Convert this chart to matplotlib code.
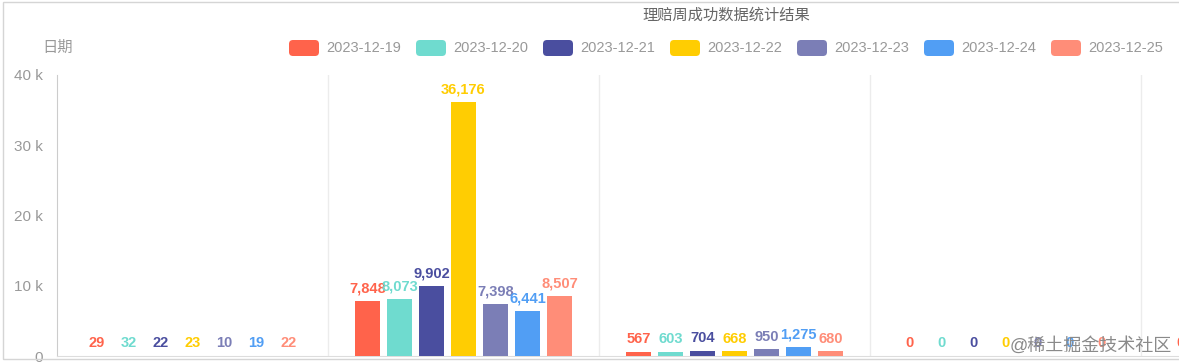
import matplotlib
matplotlib.use("Agg")
import matplotlib.pyplot as plt
from matplotlib.patches import FancyBboxPatch, Rectangle
from matplotlib.ticker import FixedLocator, FuncFormatter

plt.rcParams['font.family'] = ['Liberation Sans', 'Noto Sans CJK SC', 'DejaVu Sans']

title = "理赔周成功数据统计结果"
y_name = "日期"
series_names = ["2023-12-19", "2023-12-20", "2023-12-21", "2023-12-22",
                "2023-12-23", "2023-12-24", "2023-12-25"]
colors = ["#FF634B", "#6FDBCF", "#4A4E9F", "#FFCD02",
          "#7B7EB6", "#519EF4", "#FF8D78"]
# values per series, one entry per category (5th category is cut off at the right edge)
s_1219 = [29, 7848, 567, 0, 0]
s_1220 = [32, 8073, 603, 0, 0]
s_1221 = [22, 9902, 704, 0, 0]
s_1222 = [23, 36176, 668, 0, 0]
s_1223 = [10, 7398, 950, 0, 0]
s_1224 = [19, 6441, 1275, 0, 0]
s_1225 = [22, 8507, 680, 0, 0]
series = [s_1219, s_1220, s_1221, s_1222, s_1223, s_1224, s_1225]
y_ticks = [0, 10000, 20000, 30000, 40000]
watermark = "@稀土掘金技术社区"

W, H = 1179, 363
fig = plt.figure(figsize=(W / 100, H / 100), dpi=100)
fig.patch.set_facecolor("white")

n_cat = len(s_1219)
cat_px = 271
ax = fig.add_axes([57 / W, (H - 356) / H, n_cat * cat_px / W, (356 - 75) / H])
ax.set_xlim(0, n_cat)
ax.set_ylim(0, 40000)

step = 32 / cat_px
bw = 25 / cat_px
for i, (vals, c) in enumerate(zip(series, colors)):
    xs = [k + 0.5 + (i - 3) * step for k in range(n_cat)]
    ax.bar(xs, vals, width=bw, color=c, zorder=3)
    for x, v in zip(xs, vals):
        ax.annotate(f"{v:,}", (x, v), xytext=(0, 4), textcoords="offset points",
                    ha="center", va="bottom", color=c, fontsize=10.5,
                    fontweight="bold", annotation_clip=False, zorder=5)

for k in range(1, n_cat):
    ax.axvline(k, color="#ececec", lw=1, zorder=1)

for s in ["top", "right"]:
    ax.spines[s].set_visible(False)
ax.spines["left"].set_color("#cccccc")
ax.spines["bottom"].set_color("#dddddd")
ax.set_xticks([])
ax.yaxis.set_major_locator(FixedLocator(y_ticks))
ax.yaxis.set_major_formatter(FuncFormatter(lambda v, p: "0" if v == 0 else f"{int(v/1000)} k"))
ax.tick_params(axis="y", length=0, pad=10, labelcolor="#999999", labelsize=11)

# title and axis name
fig.text(726 / W, 1 - 15 / H, title, ha="center", va="center", fontsize=11, color="#666666")
fig.text(58 / W, 1 - 48 / H, y_name, ha="center", va="center", fontsize=11, color="#999999")

# legend (drawn in inches so the corners stay round)
for i, (name, c) in enumerate(zip(series_names, colors)):
    x0 = 289 + 127 * i
    p = FancyBboxPatch((x0 / 100, (H - 56) / 100), 0.30, 0.16,
                       boxstyle="round,pad=0,rounding_size=0.04",
                       transform=fig.dpi_scale_trans, facecolor=c, edgecolor="none")
    fig.add_artist(p)
    fig.text((x0 + 37) / W, 1 - 48 / H, name, ha="left", va="center",
             fontsize=10.5, color="#999999")

# frame border
fig.add_artist(Rectangle((2.5 / W, (H - 359) / H), (W + 10) / W, (359 - 1.5) / H,
                         transform=fig.transFigure, fill=False, edgecolor="#d5d5d5", lw=1))

fig.text(1172 / W, 1 - 346 / H, watermark, ha="right", va="center", fontsize=13,
         color="#8a8a8a", zorder=10)

fig.savefig("out.png", dpi=100)
